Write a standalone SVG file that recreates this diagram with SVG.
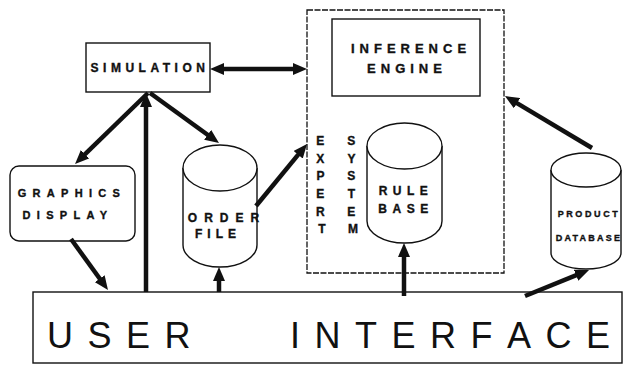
<svg xmlns="http://www.w3.org/2000/svg" width="625" height="368" viewBox="0 0 625 368">
  <style>
    .box { fill: #fff; stroke: #111; stroke-width: 1.4; }
    .dash { fill: none; stroke: #111; stroke-width: 1.3; stroke-dasharray: 6 1.5; }
    .lbl { font-family: "Liberation Sans", Arial, sans-serif; font-weight: bold; fill: #111; stroke: #111; stroke-width: 0.35; }
    .big { font-family: "Liberation Sans", Arial, sans-serif; font-size: 36px; fill: #111; }
    .wire { fill: none; stroke: #111; stroke-width: 4.5; }
  </style>
  <defs>
    <marker id="head" viewBox="0 0 14 12" refX="5" refY="6" markerWidth="14" markerHeight="12" markerUnits="userSpaceOnUse" orient="auto-start-reverse">
      <path d="M0,0 L14,6 L0,12 z" fill="#111"/>
    </marker>
  </defs>
  <rect width="625" height="368" fill="#fff"/>

  <!-- expert system enclosure -->
  <g id="expert-system">
    <rect class="dash" x="307" y="10" width="197" height="263"/>
    <text class="lbl" font-size="12" text-anchor="middle">
      <tspan x="322" y="145">E</tspan>
      <tspan x="322" y="163">X</tspan>
      <tspan x="322" y="180">P</tspan>
      <tspan x="322" y="198">E</tspan>
      <tspan x="322" y="216">R</tspan>
      <tspan x="322" y="233">T</tspan>
    </text>
    <text class="lbl" font-size="12" text-anchor="middle">
      <tspan x="353" y="145">S</tspan>
      <tspan x="353" y="163">Y</tspan>
      <tspan x="353" y="180">S</tspan>
      <tspan x="353" y="198">T</tspan>
      <tspan x="353" y="216">E</tspan>
      <tspan x="353" y="233">M</tspan>
    </text>
  </g>

  <g id="inference-engine">
    <rect class="box" x="332" y="19" width="148" height="77"/>
    <text class="lbl" font-size="13" letter-spacing="5" text-anchor="middle" x="411" y="53">INFERENCE</text>
    <text class="lbl" font-size="13" letter-spacing="5" text-anchor="middle" x="407" y="73">ENGINE</text>
  </g>

  <g id="rule-base">
    <path class="box" d="M367,146 L367,221 A37.5,22 0 0 0 442,221 L442,146"/>
    <ellipse class="box" cx="404.5" cy="146" rx="37.5" ry="23"/>
    <text class="lbl" font-size="12" letter-spacing="5.5" text-anchor="middle" x="406" y="195">RULE</text>
    <text class="lbl" font-size="12" letter-spacing="5.5" text-anchor="middle" x="406" y="213">BASE</text>
  </g>

  <g id="simulation">
    <rect class="box" x="86" y="43" width="124" height="49"/>
    <text class="lbl" font-size="12" letter-spacing="4.5" text-anchor="middle" x="150" y="72">SIMULATION</text>
  </g>

  <g id="graphics-display">
    <rect class="box" x="10" y="166" width="125" height="75" rx="9"/>
    <text class="lbl" font-size="11" letter-spacing="6.3" text-anchor="middle" x="72" y="197">GRAPHICS</text>
    <text class="lbl" font-size="11" letter-spacing="6.3" text-anchor="middle" x="68" y="219">DISPLAY</text>
  </g>

  <g id="order-file">
    <path class="box" d="M183,168 L183,245 A37,22 0 0 0 257,245 L257,168"/>
    <ellipse class="box" cx="220" cy="168" rx="37" ry="23"/>
    <text class="lbl" font-size="12" letter-spacing="7" text-anchor="middle" x="227" y="222">ORDER</text>
    <text class="lbl" font-size="12" letter-spacing="5" text-anchor="middle" x="218" y="238">FILE</text>
  </g>

  <g id="product-database">
    <path class="box" d="M551,170 L551,253 A35,16 0 0 0 621,253 L621,170"/>
    <ellipse class="box" cx="586" cy="170" rx="35" ry="17"/>
    <text class="lbl" font-size="9" letter-spacing="2.6" text-anchor="middle" x="589" y="217">PRODUCT</text>
    <text class="lbl" font-size="9" letter-spacing="2.2" text-anchor="middle" x="589" y="241">DATABASE</text>
  </g>

  <g id="user-interface">
    <rect class="box" x="33" y="292" width="589" height="71"/>
    <text class="big" x="47 87.5 126 164.5" y="348">USER</text>
    <text class="big" x="290 314.5 355 391.5 430 470.5 507 545.5 586" y="348">INTERFACE</text>
  </g>

  <!-- connectors -->
  <g id="connectors">
    <path class="wire" stroke-width="4" d="M219,69 L298,69" marker-start="url(#head)" marker-end="url(#head)"/>
    <path class="wire" d="M148,93 L81.5,157.7" marker-end="url(#head)"/>
    <path class="wire" stroke-width="4" d="M146,292 L146,102" marker-end="url(#head)"/>
    <path class="wire" d="M150,93 L211.7,137.7" marker-end="url(#head)"/>
    <path class="wire" d="M256,206 L301.3,150.9" marker-end="url(#head)"/>
    <path class="wire" d="M71,239 L102.7,282.7" marker-end="url(#head)"/>
    <path class="wire" d="M219,292 L219,276" marker-end="url(#head)"/>
    <path class="wire" d="M404,296 L404,252" marker-end="url(#head)"/>
    <path class="wire" d="M525,296 L580.7,273.4" marker-end="url(#head)"/>
    <path class="wire" d="M592,148 L512.7,100.6" marker-end="url(#head)"/>
  </g>
</svg>
